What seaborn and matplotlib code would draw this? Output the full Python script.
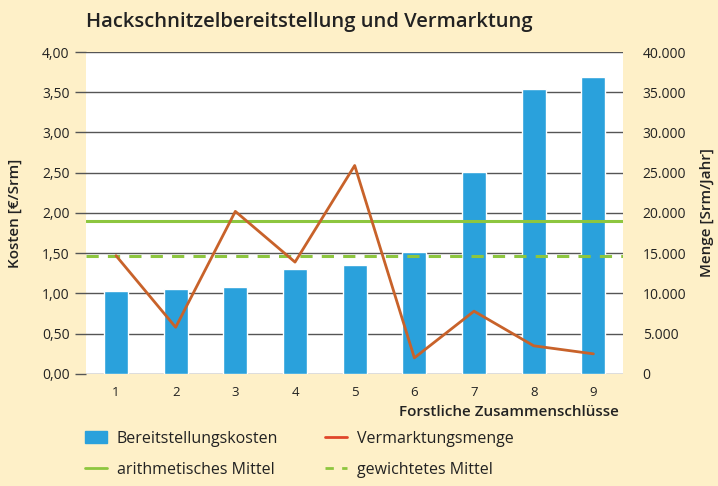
import numpy as np
import pandas as pd
import matplotlib
matplotlib.use("Agg")
import matplotlib.pyplot as plt
import seaborn as sns
from matplotlib.ticker import FuncFormatter
from matplotlib.lines import Line2D
from matplotlib.patches import Patch

# Daten
zusammenschluesse = ["1", "2", "3", "4", "5", "6", "7", "8", "9"]
kosten = [1.03, 1.05, 1.08, 1.30, 1.35, 1.51, 2.51, 3.54, 3.69]
menge = [14700, 5800, 20200, 13900, 25900, 2000, 7800, 3500, 2500]
arith_mittel = 1.90
gew_mittel = 1.47

bg = "#FEF0C8"
blau = "#2AA1DC"
orange = "#C8622A"
gruen = "#8DC63F"
text_col = "#222222"

sns.set_theme(style="white")
plt.rcParams["font.family"] = ["Open Sans", "DejaVu Sans"]

df = pd.DataFrame({"nr": zusammenschluesse, "pos": np.arange(len(zusammenschluesse)),
                   "kosten": kosten, "menge": menge})

fig = plt.figure(figsize=(7.18, 4.86), dpi=100, facecolor=bg)
ax = fig.add_axes([0.12, 0.2305, 0.748, 0.6625])
ax.set_facecolor("white")

sns.barplot(data=df, x="nr", y="kosten", color=blau, width=0.4, saturation=1, ax=ax, zorder=3)
ax.axhline(arith_mittel, color=gruen, lw=2.2, zorder=4)
ax.axhline(gew_mittel, color=gruen, lw=2.2, ls=(0, (4, 3)), zorder=4)

ax.set_ylim(0, 4)
ax.set_xlim(-0.5, 8.5)
ax.set_yticks(np.arange(0, 4.01, 0.5))
ax.yaxis.set_major_formatter(FuncFormatter(lambda v, p: f"{v:.2f}".replace(".", ",")))
ax.grid(axis="y", color="#555555", lw=1, zorder=0)
ax.set_axisbelow(True)
for s in ax.spines.values():
    s.set_visible(False)
ax.tick_params(axis="y", left=True, length=8, color="#555555", width=1, pad=4,
               labelsize=10, labelcolor=text_col)
ax.tick_params(axis="x", bottom=False, labelsize=9.5, labelcolor=text_col, pad=3)
ax.set_xlabel("")
ax.set_ylabel("Kosten [€/Srm]", fontsize=11, fontweight="semibold", color=text_col, labelpad=14)

ax2 = ax.twinx()
sns.lineplot(data=df, x="pos", y="menge", color=orange, lw=2, ax=ax2, zorder=5)
ax2.set_ylim(0, 40000)
ax2.set_yticks(np.arange(0, 40001, 5000))
ax2.yaxis.set_major_formatter(FuncFormatter(lambda v, p: f"{int(v):,}".replace(",", ".")))
for s in ax2.spines.values():
    s.set_visible(False)
ax2.tick_params(axis="y", right=False, labelsize=10, labelcolor=text_col, pad=8)
ax2.set_xlabel("")
ax2.set_ylabel("Menge [Srm/Jahr]", fontsize=11, fontweight="semibold", color=text_col, labelpad=10)
ax2.set_xlim(-0.5, 8.5)

fig.text(0.12, 1 - 22 / 486, "Hackschnitzelbereitstellung und Vermarktung", fontsize=14.5,
         fontweight="semibold", color=text_col, va="center", ha="left")
fig.text(0.862, 1 - 412 / 486, "Forstliche Zusammenschlüsse", fontsize=11,
         fontweight="semibold", color=text_col, va="center", ha="right")

# Legende zeilenweise (matplotlib füllt spaltenweise)
handles = [Patch(color=blau), Line2D([], [], color=gruen, lw=2),
           Line2D([], [], color="#E0462A", lw=2), Line2D([], [], color=gruen, lw=2, ls=(0, (3, 3)))]
labels = ["Bereitstellungskosten", "arithmetisches Mittel", "Vermarktungsmenge", "gewichtetes Mittel"]
leg = fig.legend(handles, labels, loc="upper left", bbox_to_anchor=(0.105, 1 - 421 / 486), ncol=2,
                 frameon=False, fontsize=11.5, handlelength=1.4, columnspacing=2.9,
                 labelspacing=0.95, handletextpad=0.6, borderaxespad=0.2)
for t in leg.get_texts():
    t.set_color(text_col)

fig.savefig("out.png", dpi=100, facecolor=bg)
